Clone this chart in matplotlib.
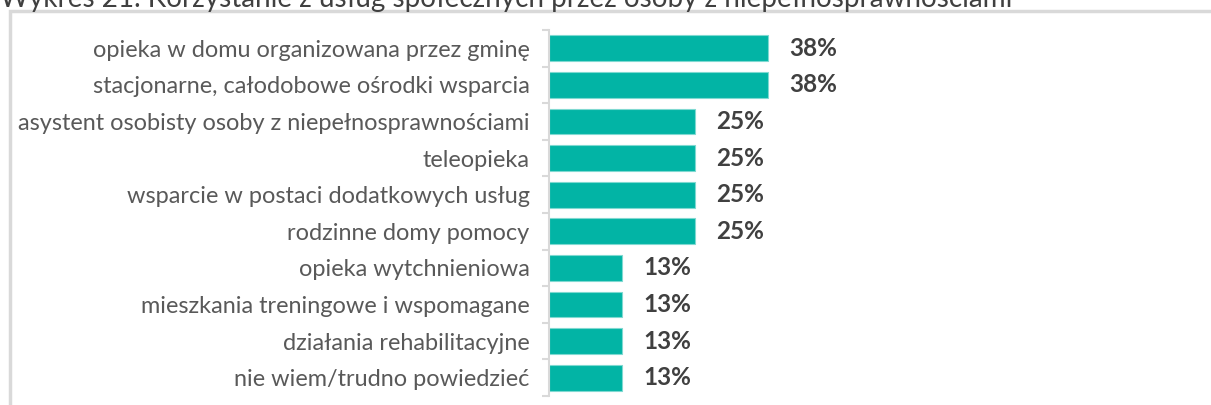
import matplotlib.pyplot as plt
from matplotlib.patches import Rectangle

plt.rcParams['font.family'] = ['Lato', 'DejaVu Sans']

categories = [
    "opieka w domu organizowana przez gminę",
    "stacjonarne, całodobowe ośrodki wsparcia",
    "asystent osobisty osoby z niepełnosprawnościami",
    "teleopieka",
    "wsparcie w postaci dodatkowych usług",
    "rodzinne domy pomocy",
    "opieka wytchnieniowa",
    "mieszkania treningowe i wspomagane",
    "działania rehabilitacyjne",
    "nie wiem/trudno powiedzieć",
]
values = [37.5, 37.5, 25, 25, 25, 25, 12.5, 12.5, 12.5, 12.5]
value_labels = ["38%", "38%", "25%", "25%", "25%", "25%", "13%", "13%", "13%", "13%"]

W, H = 1211, 405
fig = plt.figure(figsize=(W / 100, H / 100), dpi=100)

# ramka wykresu (obcięta z prawej i od dołu)
fig.patches.append(Rectangle((10 / W, -0.1), 1.2, 1.1 - 11.5 / H,
                             transform=fig.transFigure, fill=False,
                             edgecolor="#D9D9D9", linewidth=2.5))

fig.text(0, 1 - 7 / H, "Wykres 21. Korzystanie z usług społecznych przez osoby z niepełnosprawnościami",
         fontsize=20.1, color="#404040", va="baseline", ha="left")

ax = fig.add_axes([549 / W, 9 / H, 584 / W, 366 / H])
ypos = list(range(len(categories)))
ax.barh(ypos, values, height=0.71, color="#02B4A5", edgecolor="#7FD9D1", linewidth=0.8)
ax.set_xlim(0, 100)
ax.set_ylim(len(categories) - 0.5, -0.5)

for y, v, lab in zip(ypos, values, value_labels):
    ax.text(v + 3.6, y, lab, va="center", ha="left", fontsize=17.5,
            fontweight="bold", color="#404040")

ax.set_yticks(ypos)
ax.set_yticklabels(categories, fontsize=16.9, color="#595959")
ax.tick_params(axis="y", length=0, pad=14)
ax.set_yticks([i + 0.5 for i in range(-1, len(categories))], minor=True)
ax.tick_params(axis="y", which="minor", length=5, width=1.5, color="#D9D9D9")
ax.set_xticks([])
for s in ["top", "right", "bottom"]:
    ax.spines[s].set_visible(False)
ax.spines["left"].set_color("#D9D9D9")
ax.spines["left"].set_linewidth(1.5)

fig.savefig("out.png", dpi=100)
